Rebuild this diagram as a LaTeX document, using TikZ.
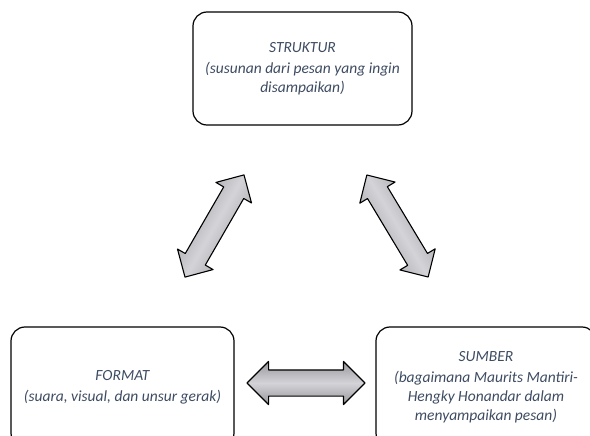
\documentclass[tikz,border=0pt]{standalone}
\usepackage{fontspec}
\usepackage{tikz}
\usetikzlibrary{shapes.arrows}
\newfontfamily\carlito{Carlito}
\definecolor{textslate}{RGB}{62,76,98}
\definecolor{arrowedge}{RGB}{150,150,156}
\definecolor{arrowmid}{RGB}{212,212,216}

\begin{document}
\begin{tikzpicture}[x=1pt,y=-1pt,
  box node/.style={rectangle,rounded corners=14pt,draw=black,line width=1.2pt,fill=white,
    align=center,text=textslate,inner xsep=2pt,font=\carlito\itshape\fontsize{15.5}{19}\selectfont},
  arrow node/.style={double arrow,draw=black,line width=1.1pt,line join=round,
    inner xsep=0pt,inner ysep=11pt,double arrow head extend=9pt,
    double arrow tip angle=90,top color=arrowedge,bottom color=arrowedge,middle color=arrowmid}]

  \useasboundingbox (0,0) rectangle (590,436);
  \clip (0,0) rectangle (590,436);

  \node[box node,minimum width=219pt,minimum height=113pt] (struktur) at (302.5,68.5)
    {STRUKTUR\\[2pt](susunan dari pesan yang ingin\\disampaikan)};
  \node[box node,minimum width=223pt,minimum height=120pt] (format) at (122.5,387)
    {FORMAT\\[2pt](suara, visual, dan unsur gerak)};
  \node[box node,minimum width=220pt,minimum height=120pt] (sumber) at (486,387)
    {SUMBER\\[2pt](bagaimana Maurits Mantiri-\\Hengky Honandar dalam\\menyampaikan pesan)};

  % arrows between the boxes
  \node[arrow node,minimum height=118pt,rotate=60,shading angle=60] (fs) at (214.5,226) {};
  \node[arrow node,minimum height=119pt,rotate=-59,shading angle=-59] (ss) at (397.5,226) {};
  \node[arrow node,minimum height=118pt,inner ysep=12.5pt,double arrow head extend=8.5pt] (fm) at (306,383) {};

\end{tikzpicture}
\end{document}
